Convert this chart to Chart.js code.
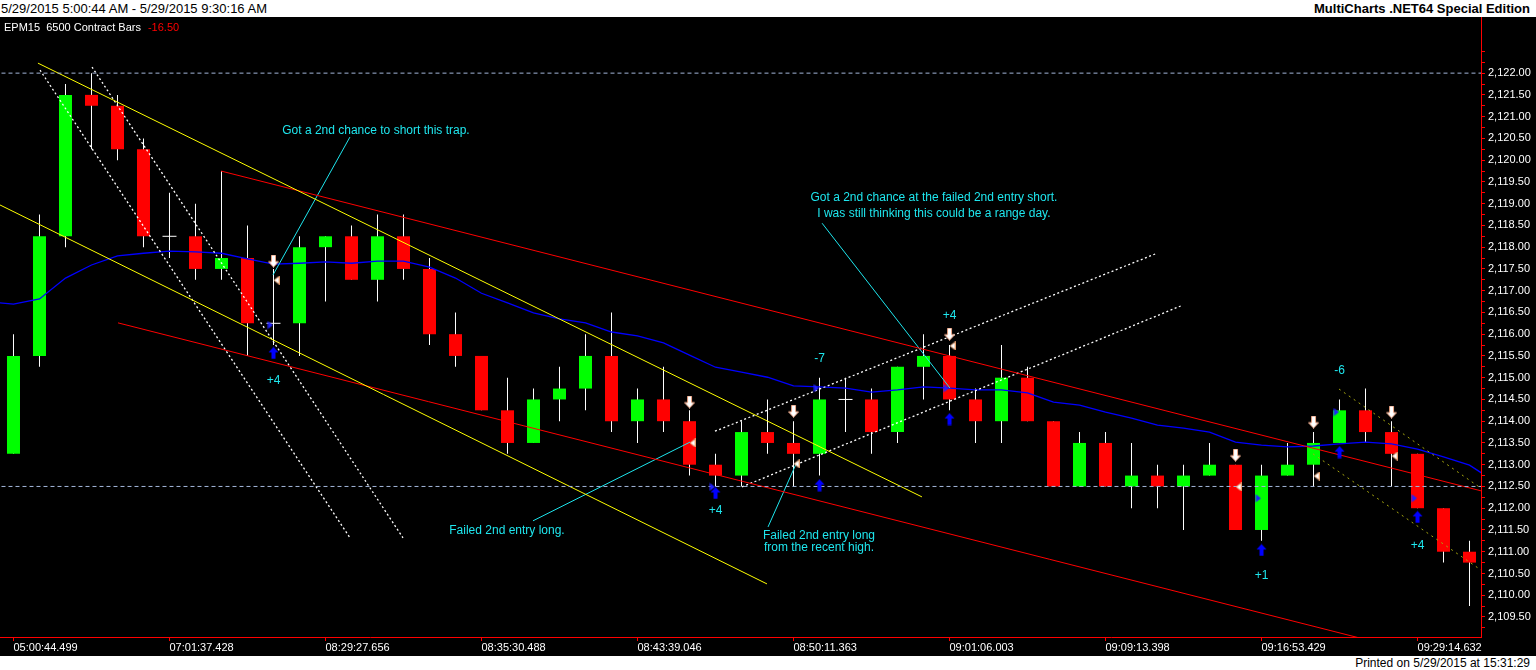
<!DOCTYPE html>
<html>
<head>
<meta charset="utf-8">
<title>EPM15 6500 Contract Bars</title>
<script src="https://cdn.jsdelivr.net/npm/chart.js@4.4.1/dist/chart.umd.min.js"></script>
<style>
  html, body { margin: 0; padding: 0; background: #fff; width: 1536px; height: 670px; overflow: hidden; font-family: "Liberation Sans", Arial, sans-serif; }
  #top { position: absolute; left: 0; top: 0; width: 1536px; height: 17px; background: #fff; font-size: 13px; line-height: 17px; color: #000; }
  #top .l { position: absolute; left: 1px; top: 0; }
  #top .r { position: absolute; right: 6px; top: 0; font-weight: bold; }
  #box { position: absolute; left: 0; top: 17px; width: 1536px; height: 639px; background: #000; }
  #foot { position: absolute; left: 0; top: 656px; width: 1536px; height: 14px; background: #fff; font-size: 12px; line-height: 14px; text-align: right; color: #000; }
  #foot span { padding-right: 6px; }
</style>
</head>
<body>
<div id="top"><span class="l">5/29/2015 5:00:44 AM - 5/29/2015 9:30:16 AM</span><span class="r">MultiCharts .NET64 Special Edition</span></div>
<div id="box"><canvas id="priceChart"></canvas></div>
<div id="foot"><span>Printed on 5/29/2015 at 15:31:29</span></div>
<script>
// 6500 contract bars, one entry per bar
const opens  = [2113.25, 2115.5, 2118.25, 2121.5, 2121.25, 2120.25, 2118.25, 2118.25, 2117.5, 2117.75,
                2116.25, 2116.25, 2118, 2118.25, 2117.25, 2118.25, 2117.5, 2116, 2115.5, 2114.25,
                2113.5, 2114.5, 2114.75, 2115.5, 2114, 2114.5, 2114, 2113, 2112.75, 2113.75,
                2113.5, 2113.25, 2114.5, 2114.5, 2113.75, 2115.25, 2115.5, 2114.5, 2114, 2115,
                2114, 2112.5, 2113.5, 2112.5, 2112.75, 2112.5, 2112.75, 2113, 2111.5, 2112.75,
                2113, 2113.5, 2114.25, 2113.75, 2113.25, 2112, 2111];
const highs  = [2116, 2118.75, 2121.75, 2122, 2121.5, 2120.5, 2119.25, 2119, 2119.75, 2118.5,
                2117.5, 2118.25, 2118.25, 2118.5, 2118.75, 2118.75, 2117.75, 2116.5, 2115.5, 2115,
                2114.75, 2115.25, 2116, 2116.5, 2114.75, 2115.25, 2114.25, 2113.25, 2114, 2114.5,
                2114, 2115, 2115, 2114.75, 2115.25, 2116, 2115.75, 2114.75, 2115.75, 2115.25,
                2114, 2113.75, 2113.75, 2113.5, 2113, 2113, 2113.5, 2113, 2113, 2113.5,
                2113.75, 2114.5, 2114.75, 2114, 2113.25, 2112, 2111.25];
const lows   = [2113.25, 2115.25, 2118, 2120.25, 2120, 2118, 2117.75, 2117.25, 2117.25, 2115.5,
                2115.75, 2115.5, 2116.75, 2117.25, 2116.75, 2117.25, 2115.75, 2115.25, 2114.25, 2113.25,
                2113.5, 2114, 2114.25, 2113.75, 2113.5, 2113.75, 2112.75, 2112.5, 2112.5, 2113.25,
                2112.5, 2112.75, 2113.75, 2113.25, 2113.5, 2114.5, 2114.25, 2113.5, 2113.5, 2114,
                2112.5, 2112.5, 2112.5, 2112, 2112, 2111.5, 2112.75, 2111.5, 2111.25, 2112.75,
                2112.5, 2113.5, 2113.5, 2112.5, 2112, 2110.75, 2109.75];
const closes = [2115.5, 2118.25, 2121.5, 2121.25, 2120.25, 2118.25, 2118.25, 2117.5, 2117.75, 2116.25,
                2116.25, 2118, 2118.25, 2117.25, 2118.25, 2117.5, 2116, 2115.5, 2114.25, 2113.5,
                2114.5, 2114.75, 2115.5, 2114, 2114.5, 2114, 2113, 2112.75, 2113.75, 2113.5,
                2113.25, 2114.5, 2114.5, 2113.75, 2115.25, 2115.5, 2114.5, 2114, 2115, 2114,
                2112.5, 2113.5, 2112.5, 2112.75, 2112.5, 2112.75, 2113, 2111.5, 2112.75, 2113,
                2113.5, 2114.25, 2113.75, 2113.25, 2112, 2111, 2110.75];

// moving average, first value belongs to the bar before the window, last to the bar after
const maStartBar = -1;
const maValues = [2116.75,
                2116.69, 2116.81, 2117.29, 2117.59, 2117.80, 2117.86, 2117.91, 2117.89, 2117.86, 2117.73,
                2117.61, 2117.63, 2117.66, 2117.63, 2117.68, 2117.68, 2117.54, 2117.29, 2116.94, 2116.72,
                2116.49, 2116.35, 2116.26, 2116.05, 2115.96, 2115.80, 2115.52, 2115.24, 2115.13, 2115.01,
                2114.81, 2114.79, 2114.76, 2114.67, 2114.72, 2114.79, 2114.76, 2114.72, 2114.72, 2114.65,
                2114.44, 2114.37, 2114.21, 2114.07, 2113.91, 2113.84, 2113.75, 2113.52, 2113.45, 2113.41,
                2113.43, 2113.48, 2113.52, 2113.48, 2113.36, 2113.18, 2112.99,
                2112.6];

// time axis
const timeTickBars = [0, 6, 12, 18, 24, 30, 36, 42, 48, 54];
const timeTickLabels = ['05:00:44.499', '07:01:37.428', '08:29:27.656', '08:35:30.488', '08:43:39.046',
                        '08:50:11.363', '09:01:06.003', '09:09:13.398', '09:16:53.429', '09:29:14.632'];

// price axis
const priceLabels = [2109.5, 2110, 2110.5, 2111, 2111.5, 2112, 2112.5, 2113, 2113.5, 2114, 2114.5, 2115, 2115.5,
                     2116, 2116.5, 2117, 2117.5, 2118, 2118.5, 2119, 2119.5, 2120, 2120.5, 2121, 2121.5, 2122];
const priceTicks = [2109.25, 2109.5, 2109.75, 2110, 2110.25, 2110.5, 2110.75, 2111, 2111.25, 2111.5, 2111.75,
                    2112, 2112.25, 2112.5, 2112.75, 2113, 2113.25, 2113.5, 2113.75, 2114, 2114.25, 2114.5, 2114.75,
                    2115, 2115.25, 2115.5, 2115.75, 2116, 2116.25, 2116.5, 2116.75, 2117, 2117.25, 2117.5, 2117.75,
                    2118, 2118.25, 2118.5, 2118.75, 2119, 2119.25, 2119.5, 2119.75, 2120, 2120.25, 2120.5, 2120.75,
                    2121, 2121.25, 2121.5, 2121.75, 2122, 2122.25, 2122.5];

// drawn trendlines: [bar, price, bar, price]
const yellowLines = [[0.94, 2122.23, 34.94, 2112.26], [-0.52, 2118.97, 28.98, 2110.26]];
const redLines    = [[7.98, 2119.75, 56.44, 2112.40], [4.02, 2116.26, 56.44, 2108.31]];
const whiteDotted = [[1.02, 2122.07, 12.94, 2111.32], [3.02, 2122.14, 14.98, 2111.32],
                     [26.98, 2113.77, 43.98, 2117.86], [28.02, 2112.49, 44.90, 2116.65]];
const oliveDotted = [[50.98, 2114.74, 56.44, 2112.46], [49.98, 2113.25, 56.44, 2110.58]];
const levelLines  = [2122, 2112.5];
const pointerLines = [[12.94, 2120.53, 9.98, 2117.36], [19.98, 2111.71, 26.02, 2113.52],
                      [29.02, 2111.57, 30.13, 2113.06], [31.10, 2118.55, 36.02, 2114.76]];

// notes: [bar, price, text]
const notes = [
  [13.94, 2120.67, 'Got a 2nd chance to short this trap.'],
  [18.98, 2111.48, 'Failed 2nd entry long.'],
  [30.98, 2111.38, 'Failed 2nd entry long'],
  [30.98, 2111.10, 'from the recent high.'],
  [35.40, 2119.13, 'Got a 2nd chance at the failed 2nd entry short.'],
  [35.40, 2118.78, 'I was still thinking this could be a range day.']
];
const tradeResults = [[10, 2114.92, '+4'], [27, 2111.94, '+4'], [31, 2115.43, '-7'], [36, 2116.42, '+4'],
                      [48, 2110.44, '+1'], [51, 2115.15, '-6'], [54, 2111.15, '+4']];

// order markers: [bar, price]
const sellArrows = [[10, 2117.68], [26, 2114.44], [30, 2114.23], [36, 2116.0], [47, 2113.22], [50, 2113.98], [53, 2114.21]];
const buyArrows  = [[10, 2115.57], [27, 2112.35], [31, 2112.53], [36, 2114.05], [48, 2111.04], [51, 2113.29], [54, 2111.8]];
const exitMarks  = [[10, 2117.24], [26, 2113.5], [30, 2113.02], [36, 2115.73], [47, 2112.49], [50, 2112.74], [53, 2113.2]];
const entryMarks = [[10, 2116.21], [27, 2112.49], [31, 2114.76], [36, 2114.76], [48, 2112.23], [51, 2114.21], [54, 2112.23]];

const FONT = '"Liberation Sans", Arial, sans-serif';
const CYAN = '#1ee6ee';
Chart.defaults.font.family = FONT;

function arrowImg(up, fill, edge) {
  const c = document.createElement('canvas');
  c.width = 11; c.height = 13;
  const g = c.getContext('2d');
  g.beginPath();
  if (up) {
    g.moveTo(5.5, 0.5); g.lineTo(10.5, 6); g.lineTo(7.5, 6); g.lineTo(7.5, 12.5);
    g.lineTo(3.5, 12.5); g.lineTo(3.5, 6); g.lineTo(0.5, 6);
  } else {
    g.moveTo(5.5, 12.5); g.lineTo(10.5, 7); g.lineTo(7.5, 7); g.lineTo(7.5, 0.5);
    g.lineTo(3.5, 0.5); g.lineTo(3.5, 7); g.lineTo(0.5, 7);
  }
  g.closePath();
  g.fillStyle = fill; g.fill();
  if (edge) { g.strokeStyle = edge; g.lineWidth = 1; g.stroke(); }
  return c;
}
function triImg(left, fill, edge) {
  const c = document.createElement('canvas');
  c.width = 6; c.height = 9;
  const g = c.getContext('2d');
  g.beginPath();
  if (left) { g.moveTo(0.5, 4.5); g.lineTo(5.5, 0.5); g.lineTo(5.5, 8.5); }
  else { g.moveTo(5.5, 4.5); g.lineTo(0.5, 0.5); g.lineTo(0.5, 8.5); }
  g.closePath();
  g.fillStyle = fill; g.fill();
  if (edge) { g.strokeStyle = edge; g.lineWidth = 1; g.stroke(); }
  return c;
}

const isUp = i => closes[i] >= opens[i];

function segment(s, color, dash, width) {
  return {
    type: 'line', data: [{ x: s[0], y: s[1] }, { x: s[2], y: s[3] }],
    borderColor: color, borderWidth: width || 1, borderDash: dash || [], pointRadius: 0, order: 3
  };
}
function markers(list, img, shift) {
  return {
    type: 'scatter', data: list.map(m => ({ x: m[0] + shift, y: m[1] })),
    pointStyle: img, pointRadius: 5, showLine: false, order: 0
  };
}

const datasets = [
  { // wicks
    type: 'bar', data: opens.map((o, i) => ({ x: i, y: [lows[i], highs[i]] })),
    backgroundColor: '#ffffff', grouped: false, maxBarThickness: 1, order: 10
  },
  { // bodies
    type: 'bar', data: opens.map((o, i) => ({ x: i, y: [o, closes[i]] })),
    backgroundColor: ctx => isUp(ctx.dataIndex) ? '#00ff00' : '#ff0000',
    grouped: false, maxBarThickness: 13, order: 9
  },
  { // doji crosses
    type: 'scatter',
    data: opens.map((o, i) => ({ x: i, y: o })).filter(p => opens[p.x] === closes[p.x]),
    pointStyle: 'line', pointRadius: 7, borderColor: '#ffffff', borderWidth: 1, showLine: false, order: 8
  },
  {
    type: 'line', data: maValues.map((v, k) => ({ x: maStartBar + k, y: v })),
    borderColor: '#0000ff', borderWidth: 1.3, pointRadius: 0, tension: 0, order: 4
  }
];
levelLines.forEach(p => datasets.push(segment([-1, p, 58, p], '#a3b6da', [4, 3])));
yellowLines.forEach(s => datasets.push(segment(s, '#ffff00')));
redLines.forEach(s => datasets.push(segment(s, '#ff0000')));
whiteDotted.forEach(s => datasets.push(segment(s, '#ffffff', [2, 2.5], 1.3)));
oliveDotted.forEach(s => datasets.push(segment(s, '#a8a810', [2, 4])));
pointerLines.forEach(s => datasets.push(segment(s, CYAN)));
datasets.push(markers(sellArrows, arrowImg(false, '#ffffff', '#e8a080'), 0));
datasets.push(markers(buyArrows, arrowImg(true, '#0000ff'), 0));
datasets.push(markers(exitMarks, triImg(true, '#ffffff', '#e8a070'), 0.12));
datasets.push(markers(entryMarks, triImg(false, '#2020ff'), -0.12));

const notesPlugin = {
  id: 'notes',
  afterDatasetsDraw(chart) {
    const { ctx, chartArea, scales: { x, y } } = chart;
    ctx.save();
    ctx.textBaseline = 'middle';
    ctx.textAlign = 'center';
    ctx.fillStyle = CYAN;
    ctx.font = '12px ' + FONT;
    notes.forEach(n => ctx.fillText(n[2], x.getPixelForValue(n[0]), y.getPixelForValue(n[1])));
    tradeResults.forEach(t => ctx.fillText(t[2], x.getPixelForValue(t[0]), y.getPixelForValue(t[1])));
    // symbol header
    ctx.textAlign = 'left';
    ctx.font = '11px ' + FONT;
    ctx.fillStyle = '#ffffff';
    const title = 'EPM15  6500 Contract Bars';
    ctx.fillText(title, chartArea.left + 4, chartArea.top + 11);
    ctx.fillStyle = '#ff0000';
    ctx.fillText('-16.50', chartArea.left + 4 + ctx.measureText(title).width + 7, chartArea.top + 11);
    ctx.restore();
  }
};

const fmtPrice = v => v.toLocaleString('en-US', { minimumFractionDigits: 2, maximumFractionDigits: 2 });

new Chart(document.getElementById('priceChart').getContext('2d'), {
  type: 'bar',
  data: { datasets: datasets },
  options: {
    responsive: true,
    maintainAspectRatio: false,
    animation: false,
    layout: { padding: 0, autoPadding: false },
    plugins: { legend: { display: false }, tooltip: { enabled: false } },
    scales: {
      x: {
        type: 'linear', min: -0.519, max: 56.442, offset: false,
        afterBuildTicks: ax => { ax.ticks = timeTickBars.map(v => ({ value: v })); },
        afterFit: ax => { ax.height = 19; ax.paddingLeft = 0; ax.paddingRight = 0; },
        ticks: {
          color: '#ffffff', font: { size: 11 }, align: 'start', padding: 0,
          autoSkip: false, maxRotation: 0,
          callback: (v, i) => timeTickLabels[i]
        },
        grid: { drawOnChartArea: false, color: '#ff0000', tickLength: 4, offset: false },
        border: { color: '#ff0000' }
      },
      y: {
        position: 'right', min: 2109.04, max: 2123.29,
        afterBuildTicks: ax => { ax.ticks = priceTicks.map(v => ({ value: v })); },
        afterFit: ax => { ax.width = 55; ax.paddingTop = 0; ax.paddingBottom = 0; },
        ticks: {
          color: '#ffffff', font: { size: 11 }, padding: 3, autoSkip: false,
          callback: v => priceLabels.includes(v) ? fmtPrice(v) : ''
        },
        grid: { drawOnChartArea: false, color: '#ff0000', tickLength: 4 },
        border: { color: '#ff0000' }
      }
    }
  },
  plugins: [notesPlugin]
});
</script>
</body>
</html>
